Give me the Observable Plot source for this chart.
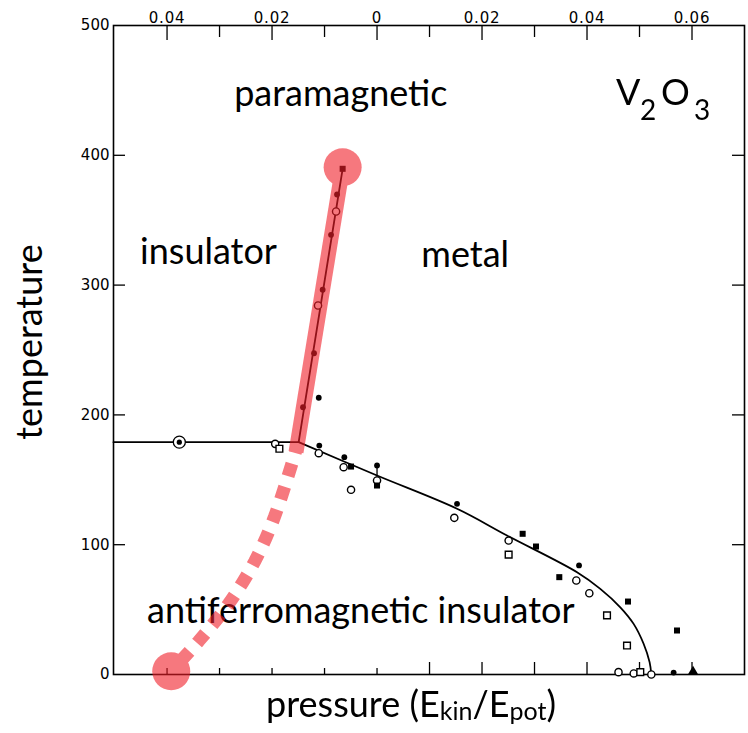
<!DOCTYPE html>
<html><head><meta charset="utf-8">
<script src="https://cdn.jsdelivr.net/npm/d3@7"></script>
<script src="https://cdn.jsdelivr.net/npm/@observablehq/plot@0.6"></script>
<style>
body{margin:0;background:#fff;}
#chart svg{display:block;}
g[aria-label="x-axis tick label"] text{letter-spacing:0.8px;}
</style>
</head><body><div id="chart"></div>
<script>
// ---- tick values ----
const yTicks = [0, 100, 200, 300, 400, 500];
const yInnerTicks = [100, 200, 300, 400];
const xTicksMajor = [-0.04, -0.02, 0, 0.02, 0.04, 0.06];
const xTicksMinor = [-0.03, -0.01, 0.01, 0.03, 0.05];
const xBottomShort = [-0.04, -0.03, -0.02, -0.01, 0];
const xBottomLong = [0.01, 0.02, 0.03, 0.04, 0.05, 0.06];

// ---- phase boundaries (pressure, temperature) ----
const flatBoundary = [
  {p: -0.0502, T: 179}, {p: -0.01493, T: 179}
];
const steepBoundary = [
  {p: -0.01493, T: 179}, {p: -0.00655, T: 389.6}
];
const afmBoundary = [
  {p: -0.01493, T: 179}, {p: 0, T: 153.3}, {p: 0.01524, T: 127.7}, {p: 0.02476, T: 107.1},
  {p: 0.0381, T: 78.8}, {p: 0.04253, T: 66}, {p: 0.04634, T: 51.8}, {p: 0.04888, T: 39},
  {p: 0.05078, T: 23.7}, {p: 0.05192, T: 9.5}, {p: 0.05225, T: 0}
];

// ---- measured points ----
const filledCircles = [
  {p: -0.00762, T: 369.8}, {p: -0.00876, T: 338.7}, {p: -0.01036, T: 296.4}, {p: -0.0120, T: 247.5},
  {p: -0.0141, T: 205.9}, {p: -0.0111, T: 213.2}, {p: -0.0110, T: 176.4}, {p: -0.00623, T: 167.4},
  {p: 0.0, T: 161}, {p: 0.01524, T: 131.5}, {p: 0.03848, T: 84}, {p: 0.0565, T: 1.5}
];
const openCircles = [
  {p: -0.0078, T: 356.7}, {p: -0.01124, T: 284.3}, {p: -0.0111, T: 170.5}, {p: -0.00636, T: 159.7},
  {p: 0.0, T: 149.5}, {p: -0.00495, T: 142.3}, {p: 0.01472, T: 120.7}, {p: 0.02507, T: 103.2},
  {p: 0.03796, T: 72.4}, {p: 0.04044, T: 62.6}, {p: 0.0460, T: 1.8}, {p: 0.0489, T: 0.8},
  {p: 0.05225, T: 0}, {p: -0.0194, T: 177.7}
];
const filledSquares = [
  {p: -0.00655, T: 389.6}, {p: -0.00495, T: 160.2}, {p: 0.0, T: 145.6}, {p: 0.02774, T: 108.4},
  {p: 0.03028, T: 98.6}, {p: 0.03472, T: 75}, {p: 0.04781, T: 56.2}, {p: 0.05714, T: 33.9}
];
const openSquares = [
  {p: -0.0186, T: 173.9}, {p: 0.02507, T: 92.4}, {p: 0.04381, T: 45.5}, {p: 0.04762, T: 22.3},
  {p: 0.05015, T: 1.8}
];
const filledTriangles = [{p: 0.0602, T: 2.5}];
const ringedPoints = [{p: -0.03766, T: 179}];
const errorBars = [{p: 0.0, T1: 150, T2: 161}];

// ---- red overlay (Mott transition line + crossover) ----
const mottLine = [{p: -0.01543, T: 171.3}, {p: -0.00655, T: 390.8}];
const crossover = [
  {p: -0.0149, T: 180}, {p: -0.01956, T: 121.2}, {p: -0.02331, T: 87.1},
  {p: -0.02827, T: 54.5}, {p: -0.03398, T: 25.7}, {p: -0.03924, T: 2.5}
];
const endpoints = [{p: -0.00655, T: 390.8}, {p: -0.0392, T: 2.5}];

// ---- region labels ----
const regionLabels = [
  {p: -0.0069, T: 437.6, label: "paramagnetic"},
  {p: -0.0321, T: 316.4, label: "insulator"},
  {p: 0.0168, T: 313.6, label: "metal"},
  {p: -0.0031, T: 39.7, label: "antiferromagnetic insulator"}
];

const W = 748, H = 733, mt = 25, mb = 59, ml = 113, mr = 4;
const PH = H - mt - mb, PW = W - ml - mr;
const red = "#f01e28";

const chart = Plot.plot({
  width: W, height: H,
  marginTop: mt, marginBottom: mb, marginLeft: ml, marginRight: mr,
  style: {fontFamily: "DejaVu Sans", fontSize: "15px", color: "black", background: "white"},
  x: {domain: [-0.0502, 0.07]},
  y: {domain: [0, 500]},
  marks: [
    Plot.axisY({ticks: yTicks, tickSize: 0, tickPadding: 4, label: null}),
    Plot.axisX({anchor: "top", ticks: xTicksMajor, tickFormat: d => String(Math.abs(d)), tickSize: 0, tickPadding: 3, label: null}),
    Plot.tickX(xTicksMajor, {x: d => d, insetBottom: PH - 15, stroke: "black", strokeWidth: 1.3}),
    Plot.tickX(xTicksMinor, {x: d => d, insetBottom: PH - 12, stroke: "black", strokeWidth: 1.3}),
    Plot.tickX(xBottomShort, {x: d => d, insetTop: PH - 6, stroke: "black", strokeWidth: 1.3}),
    Plot.tickX(xBottomLong, {x: d => d, insetTop: PH - 12, stroke: "black", strokeWidth: 1.3}),
    Plot.tickY(yInnerTicks, {y: d => d, insetRight: PW - 12, stroke: "black", strokeWidth: 1.3}),
    Plot.tickY(yInnerTicks, {y: d => d, insetLeft: PW - 12, stroke: "black", strokeWidth: 1.3}),
    Plot.frame({stroke: "black", strokeWidth: 1.6}),
    Plot.line(flatBoundary, {x: "p", y: "T", stroke: "black", strokeWidth: 1.8}),
    Plot.line(steepBoundary, {x: "p", y: "T", stroke: "black", strokeWidth: 1.8}),
    Plot.line(afmBoundary, {x: "p", y: "T", curve: "catmull-rom", stroke: "black", strokeWidth: 1.8}),
    Plot.ruleX(errorBars, {x: "p", y1: "T1", y2: "T2", stroke: "black", strokeWidth: 1.3}),
    Plot.dot(ringedPoints, {x: "p", y: "T", r: 6, stroke: "black", fill: "white", strokeWidth: 1.3}),
    Plot.dot(ringedPoints, {x: "p", y: "T", r: 2.6, fill: "black"}),
    Plot.dot(openCircles, {x: "p", y: "T", r: 3.6, stroke: "black", fill: "white", strokeWidth: 1.4}),
    Plot.dot(openSquares, {x: "p", y: "T", symbol: "square", r: 3.8, stroke: "black", fill: "white", strokeWidth: 1.4}),
    Plot.dot(filledCircles, {x: "p", y: "T", r: 2.9, fill: "black"}),
    Plot.dot(filledSquares, {x: "p", y: "T", symbol: "square", r: 3.4, fill: "black"}),
    Plot.dot(filledTriangles, {x: "p", y: "T", symbol: "triangle", r: 3.6, fill: "black"}),
    Plot.text(regionLabels, {x: "p", y: "T", text: "label", fontFamily: "Lato", fontSize: 36, lineAnchor: "bottom", textAnchor: "middle", fill: "black"}),
    Plot.line(mottLine, {x: "p", y: "T", stroke: red, strokeWidth: 15, strokeLinecap: "butt"}),
    Plot.line(crossover, {x: "p", y: "T", curve: "catmull-rom", stroke: red, strokeWidth: 13, strokeDasharray: "13 11", strokeLinecap: "butt", strokeLinejoin: "miter"}),
    Plot.dot(endpoints, {x: "p", y: "T", r: 19, fill: red})
  ]
});

// group the red overlay so it is uniformly translucent
const svg = d3.select(chart);
const redGroup = svg.append("g").attr("opacity", 0.6);
svg.selectAll("g").filter(function() {
  return this.getAttribute("stroke") === red || this.getAttribute("fill") === red;
}).each(function() { redGroup.node().appendChild(this); });

// axis titles and formula label
svg.append("text")
  .attr("transform", "translate(42,342) rotate(-90)")
  .attr("text-anchor", "middle")
  .attr("font-family", "Lato").attr("font-size", 36).attr("fill", "black")
  .text("temperature");

const xl = svg.append("text")
  .attr("x", 266).attr("y", 717).attr("text-anchor", "start")
  .attr("font-family", "Lato").attr("font-size", 36).attr("fill", "black");
xl.append("tspan").text("pressure (E");
xl.append("tspan").attr("font-size", 25).attr("dy", 3).text("kin");
xl.append("tspan").attr("dy", -3).text("/E");
xl.append("tspan").attr("font-size", 25).attr("dy", 3).text("pot");
xl.append("tspan").attr("dy", -3).text(")");

const formula = svg.append("text").attr("text-anchor", "start")
  .attr("font-family", "Lato").attr("fill", "black");
formula.append("tspan").attr("x", 616).attr("y", 105).attr("font-size", 36).text("V");
formula.append("tspan").attr("x", 640).attr("y", 120).attr("font-size", 28).text("2");
formula.append("tspan").attr("x", 661).attr("y", 105).attr("font-size", 36).text("O");
formula.append("tspan").attr("x", 694).attr("y", 120).attr("font-size", 28).text("3");

document.getElementById("chart").appendChild(chart);
</script>
</body></html>
